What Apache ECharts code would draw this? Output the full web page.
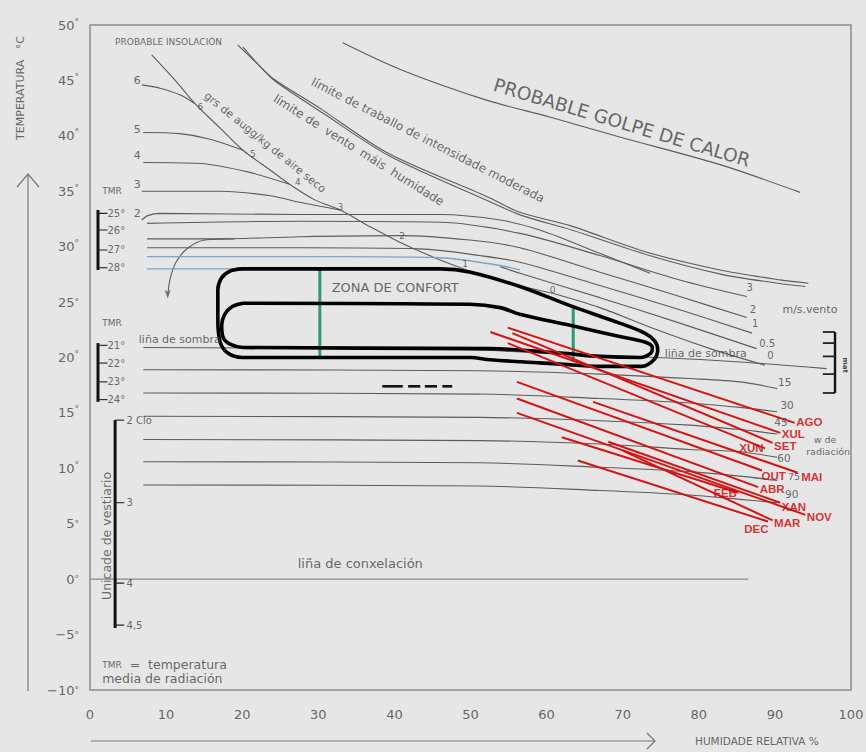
<!DOCTYPE html>
<html><head><meta charset="utf-8">
<script src="https://cdn.jsdelivr.net/npm/echarts/dist/echarts.min.js"></script>
<style>html,body{margin:0;padding:0;background:#e6e6e6}#c{width:866px;height:752px}</style>
</head><body><div id="c"></div><script>
// ---------- DATA (humidade relativa %, temperatura °C) ----------
const humidadeTicks = [0,10,20,30,40,50,60,70,80,90,100];
const temperaturaTicks = [-10,-5,0,5,10,15,20,25,30,35,40,45,50];

const probableGolpe = [[33.2,48.4],[41.1,45.9],[52.2,43.2],[60.4,41.7],[69.6,39.9],[82.8,37.4],[93.3,34.9]];
const limiteTraballo = [[19.4,48.2],[21.7,46.7],[24.0,45.2],[30.2,42.5],[39.0,38.5],[52.2,34.5],[56.5,33.1],[63.1,31.9],[73.2,29.5],[82.8,27.9],[90.7,27.0],[94.4,26.7]];
const limiteVento = [[20.1,48.0],[22.3,46.3],[24.4,44.9],[30.5,42.1],[39.3,38.2],[52.4,34.1],[56.8,32.8],[63.3,31.5],[73.5,29.2],[83.0,27.5],[90.4,26.7],[94.0,26.4]];
const insolacion = [[8.1,47.3],[11.2,45.0],[13.8,42.9],[17.1,40.7],[20.1,38.7],[23.7,36.9],[26.3,35.6],[29.6,34.2],[32.9,33.3],[36.8,31.8],[40.7,30.4],[45.3,29.0],[49.5,27.9],[55.2,26.7],[60.8,25.8]];
const grs6 = [[6.8,44.6],[9.2,44.3],[11.8,43.7],[13.8,42.9]];
const grs5 = [[7.0,40.3],[11.8,40.2],[15.8,39.7],[20.1,38.7]];
const grs4 = [[7.0,37.6],[14.5,37.5],[21.0,36.7],[26.3,35.6]];
const grs3 = [[6.8,35.0],[17.1,35.0],[23.7,34.6],[27.6,34.0],[32.9,33.3]];
const ventoCurto = [[6.8,32.4],[7.6,32.8],[9.2,33.0],[27.6,32.9],[46.0,32.9],[53.9,32.4],[59.1,31.5],[67.0,29.4],[73.6,27.6]];
const vento3 = [[7.5,32.1],[27.6,32.3],[46.0,32.2],[56.5,31.2],[67.0,29.2],[77.5,27.0],[86.3,25.5]];
const vento2 = [[7.5,30.7],[16.7,30.7],[27.6,30.9],[40.7,31.0],[49.9,30.6],[56.5,29.9],[67.0,27.7],[77.5,25.5],[86.3,23.6]];
const vento1 = [[7.5,29.9],[27.6,29.9],[43.4,29.8],[51.2,29.2],[56.5,28.6],[67.0,26.5],[77.5,24.3],[87.0,22.2]];
const vento05Azul = [[7.5,29.1],[31.5,29.1],[46.0,29.0],[53.9,28.3],[56.5,27.9]];
const vento05 = [[53.9,28.2],[56.5,27.6],[67.0,25.4],[77.5,23.1],[87.6,20.8]];
const vento0 = [[60.8,25.8],[67.0,24.5],[74.5,22.5],[81.5,20.8],[88.7,19.3]];
const tmr28Azul = [[7.5,28.0],[18.7,28.0]];
const arcoFrecha = [[19.0,30.7],[15.1,30.6],[12.9,29.9],[11.3,28.6],[10.5,27.0],[10.2,25.4]];
const sombra = [[7.0,20.9],[49.9,20.7],[61.8,20.3],[74.5,20.0],[85.4,19.6],[96.8,19.0]];
const rad15 = [[7.0,18.9],[51.2,18.8],[67.0,18.5],[78.8,18.1],[85.4,17.8],[90.3,17.2]];
const rad30 = [[7.0,16.8],[51.2,16.7],[67.0,16.3],[78.8,15.9],[85.4,15.5],[90.3,15.1]];
const rad45 = [[7.0,14.7],[51.2,14.6],[67.0,14.3],[78.8,13.9],[85.4,13.5],[90.3,13.1]];
const rad60 = [[7.0,12.6],[51.2,12.5],[67.0,12.2],[78.8,11.7],[85.4,11.5],[90.3,11.0]];
const rad75 = [[7.0,10.6],[51.2,10.5],[67.0,10.1],[78.8,9.7],[85.4,9.3],[90.3,8.9]];
const rad90 = [[7.0,8.5],[51.2,8.4],[67.0,8.0],[78.8,7.6],[85.4,7.2],[90.3,6.9]];
const conxelacion = [[0,0],[86.5,0]];
const confortExterior = [[20,28],[46,28],[50,27.7],[56.5,26.4],[63,24.7],[69.6,23.1],[72.9,22.2],[74.2,21.5],[74.6,20.7],[74.1,19.8],[72.5,19.2],[67,19.2],[61.8,19.4],[52.6,19.8],[50,20],[20,20],[18.1,20.4],[17.1,21.4],[16.8,23.4],[16.8,26.1],[17.3,27.2],[18.4,27.8],[20,28]];
const confortInterior = [[20.1,24.9],[49.9,24.8],[53.9,24.5],[56.5,23.9],[63.1,22.9],[69.6,21.9],[72.9,21.4],[73.9,20.9],[73.7,20.4],[72.3,20.0],[67,20.1],[61.8,20.4],[52.6,20.8],[20.1,20.9],[18.4,21.2],[17.5,21.8],[17.3,22.9],[17.7,23.9],[18.7,24.6],[20.1,24.9]];
const verdeEsq = [[30.2,27.9],[30.2,20.1]];
const verdeDer = [[63.5,24.6],[63.5,19.6]];
const trazos = [[[38.4,17.4],[41.1,17.4]],[[41.8,17.4],[43.4,17.4]],[[44.0,17.4],[45.6,17.4]],[[46.3,17.4],[47.6,17.4]]];

const meses = ['XAN','FEB','MAR','ABR','MAI','XUN','XUL','AGO','SET','OUT','NOV','DEC'];
const mesInicio = [[68.1,12.4],[62.0,12.8],[70.0,11.6],[56.1,16.3],[66.1,16.0],[54.9,21.3],[52.6,22.3],[54.9,22.7],[55.5,22.2],[56.1,17.8],[56.1,15.0],[64.1,10.7]];
const mesFin = [[90.7,6.9],[85.2,7.8],[89.7,5.3],[87.8,8.3],[93.0,9.6],[88.7,11.8],[90.7,13.2],[92.6,14.1],[89.7,12.3],[88.3,9.8],[94.0,5.8],[89.1,5.2]];

const tmrVeran = ['25°','26°','27°','28°'];
const tmrVeranT = [33.0,31.5,29.7,28.1];
const tmrInverno = ['21°','22°','23°','24°'];
const tmrInvernoT = [21.1,19.5,17.8,16.2];
const clo = ['2 Clo','3','4','4,5'];
const cloT = [14.35,6.9,-0.36,-4.15];
const matT = [22.3,21.3,20.1,18.5,16.8];
const radiacion = ['15','30','45','60','75','90'];
const ventoVel = ['3','2','1','0.5','0'];

// ---------- BUILD ----------
const F = "'DejaVu Sans', sans-serif";
const GRAY = '#5c5c5c', BLUE = '#79a5c6', RED = '#d41414', GREEN = '#2f9a6c';
function L(data, color, width, extra){
  return Object.assign({type:'line', data, symbol:'none', showSymbol:false, silent:true, animation:false,
    smooth:0.3, lineStyle:{color, width}, z:2}, extra||{});
}
const series = [];
[probableGolpe, limiteTraballo, limiteVento, insolacion, grs6, grs5, grs4, grs3,
 ventoCurto, vento3, vento2, vento1, vento05, vento0, sombra, rad15, rad30, rad45, rad60, rad75, rad90, arcoFrecha]
 .forEach(d => series.push(L(d, GRAY, 1.1)));
series.push(L(conxelacion, '#8a8a8a', 1.3, {smooth:false}));
series.push(L(vento05Azul, BLUE, 1.3));
series.push(L(tmr28Azul, BLUE, 1.3, {smooth:false}));
series.push(L(confortExterior, '#000', 3.6, {z:5, smooth:0.35}));
series.push(L(confortInterior, '#000', 3.6, {z:5, smooth:0.35}));
series.push(L(verdeEsq, GREEN, 3, {z:4, smooth:false}));
series.push(L(verdeDer, GREEN, 3, {z:4, smooth:false}));
trazos.forEach(d => series.push(L(d, '#111', 2.6, {z:5, smooth:false})));
meses.forEach((m,i) => series.push(L([mesInicio[i], mesFin[i]], RED, 2, {z:6, smooth:false})));

// brackets
const bk = (x1,x2,ts,w) => ts.forEach(t => series.push(L([[x1,t],[x2,t]], '#222', w||1.1, {smooth:false, z:3})));
series.push(L([[1.05,33.3],[1.05,27.9]], '#111', 3, {smooth:false, z:3}));
bk(1.05,2.3,tmrVeranT);
series.push(L([[1.05,21.3],[1.05,16.0]], '#111', 3, {smooth:false, z:3}));
bk(1.05,2.3,tmrInvernoT);
series.push(L([[3.3,14.35],[3.3,-4.4]], '#111', 3, {smooth:false, z:3}));
bk(3.3,4.5,cloT);
series.push(L([[97.9,22.3],[97.9,16.8]], '#111', 2.4, {smooth:false, z:3}));
bk(96.3,97.9,matT,1.8);

// arrow head of the curved arrow
series.push({type:'scatter', silent:true, animation:false, z:4, symbol:'arrow', symbolRotate:180, symbolSize:[5,8],
  itemStyle:{color:'#666'}, data:[arcoFrecha[arcoFrecha.length-1]]});

// text notes (data-anchored)
function notes(){
  const n = [];
  const add = (x,y,t,o) => n.push(Object.assign({x,y,t},o||{}));
  add(3.3,48.5,'PROBABLE INSOLACIÓN',{fs:9,a:'left'});
  [['6',45.0],['5',40.6],['4',38.2],['3',35.6],['2',33.0]].forEach(p => add(6.2,p[1],p[0],{fs:11}));
  [[14.5,42.6,'6'],[21.4,38.4,'5'],[27.3,35.8,'4'],[32.9,33.6,'3'],[41.0,31.0,'2'],[49.3,28.4,'1'],[60.8,26.1,'0']].forEach(p => add(p[0],p[1],p[2],{fs:9}));
  add(23.0,39.4,'grs de augg/kg de aire seco',{fs:11,r:-39});
  add(44.4,39.6,'límite de traballo de intensidade moderada',{fs:12,r:-27});
  add(35.3,38.7,'límite de  vento  máis  humidade',{fs:12,r:-32});
  add(69.9,41.2,'PROBABLE GOLPE DE CALOR',{fs:18.5,r:-16.6});
  add(40.1,26.3,'ZONA DE CONFORT',{fs:13});
  add(11.8,21.6,'liña de sombra',{fs:11});
  add(80.9,20.4,'liña de sombra',{fs:11});
  add(94.6,24.3,'m/s.vento',{fs:11});
  [[86.7,26.3],[87.1,24.3],[87.4,23.1],[89.0,21.3],[89.4,20.2]].forEach((p,i) => add(p[0],p[1],ventoVel[i],{fs:10}));
  [[91.3,17.8],[91.6,15.7],[90.8,14.2],[91.2,10.9],[92.5,9.3],[92.2,7.7]].forEach((p,i) => add(p[0],p[1],radiacion[i],{fs:i===4?9.5:10.5}));
  add(96.6,12.6,'w de',{fs:9.5});
  add(97.0,11.5,'radiación',{fs:9.5});
  add(99.2,19.3,'mat',{fs:7,r:-90,w:'bold',c:'#111'});
  add(2.9,35.0,'TMR',{fs:9});
  add(2.9,23.1,'TMR',{fs:9});
  tmrVeran.forEach((t,i) => add(2.3,tmrVeranT[i],t,{fs:10,a:'left'}));
  tmrInverno.forEach((t,i) => add(2.3,tmrInvernoT[i],t,{fs:10,a:'left'}));
  clo.forEach((t,i) => add(4.8,cloT[i],t,{fs:10,a:'left'}));
  add(2.2,3.9,'Unicade de vestiario',{fs:12.5,r:90});
  add(27.3,1.4,'liña de conxelación',{fs:13,a:'left'});
  add(1.6,-7.7,'{s|TMR}  =  temperatura',{fs:12.5,a:'left'});
  add(1.6,-9.0,'media de radiación',{fs:12.5,a:'left'});
  return n;
}
series.push({type:'scatter', silent:true, animation:false, z:8, symbolSize:1, itemStyle:{color:'rgba(0,0,0,0)'},
  data: notes().map(n => ({value:[n.x,n.y], label:{show:true, position:'inside', formatter:n.t, rotate:n.r||0,
    fontSize:n.fs||11, color:n.c||'#444', fontFamily:F, fontWeight:n.w||'normal', align:n.a||'center', verticalAlign:'middle',
    rich:{s:{fontSize:9, color:'#444', fontFamily:F}}}}))});

// month labels
const mesPos = {XAN:['right',[0,4]],FEB:['left',[0,0]],MAR:['right',[0,3]],ABR:['right',[0,2]],MAI:['right',[2,4]],
  XUN:['left',[0,0]],XUL:['right',[0,1]],AGO:['right',[0,-1]],SET:['right',[0,3]],OUT:['right',[-2,5]],NOV:['right',[0,2]],DEC:['left',[2,7]]};
series.push({type:'scatter', silent:true, animation:false, z:9, symbolSize:1, itemStyle:{color:'rgba(0,0,0,0)'},
  data: meses.map((m,i) => ({value:mesFin[i], label:{show:true, formatter:m, position:mesPos[m][0], offset:mesPos[m][1], distance:1,
    fontSize:11.5, fontWeight:'bold', color:'#d00000', fontFamily:"'Liberation Sans', Arial, sans-serif"}}))});

const lowDeg = new Set([25,5,0,-5,-10]);
const option = {
  backgroundColor:'#e6e6e6',
  animation:false,
  grid:{left:90, right:15, top:25, bottom:62, show:true, borderColor:'#8c8c8c', borderWidth:1.5, containLabel:false, outerBoundsMode:'none'},
  xAxis:{type:'value', min:0, max:100, interval:10, axisLine:{show:false}, axisTick:{show:false}, splitLine:{show:false},
    axisLabel:{color:'#666', fontSize:13, margin:18, fontFamily:F, showMinLabel:true, showMaxLabel:true,
      formatter: v => humidadeTicks.includes(v) ? String(v) : ''}},
  yAxis:{type:'value', min:-10, max:50, interval:5, axisLine:{show:false}, axisTick:{show:false}, splitLine:{show:false},
    axisLabel:{color:'#666', fontSize:13, margin:11, fontFamily:F, showMinLabel:true, showMaxLabel:true,
      formatter: v => temperaturaTicks.includes(v) ? ((v<0?'−':'')+Math.abs(v)+(lowDeg.has(v)?'{lo|°}':'{hi|°}')) : '',
      rich:{hi:{fontSize:9, color:'#666', padding:[0,0,7,0], fontFamily:F}, lo:{fontSize:9, color:'#666', padding:[0,0,0,0], fontFamily:F}}}},
  graphic:[
    {type:'line', shape:{x1:28,y1:174,x2:28,y2:691}, style:{stroke:'#777', lineWidth:1.2}},
    {type:'polyline', shape:{points:[[17,187],[28,174],[39,187]]}, style:{stroke:'#777', fill:null, lineWidth:1.2}},
    {type:'line', shape:{x1:91,y1:741,x2:655,y2:741}, style:{stroke:'#777', lineWidth:1.2}},
    {type:'polyline', shape:{points:[[647,733],[655,741],[647,749]]}, style:{stroke:'#777', fill:null, lineWidth:1.2}},
    {type:'text', x:20, y:88, rotation:Math.PI/2, style:{text:'TEMPERATURA   °C', align:'center', verticalAlign:'middle', fontSize:11, fill:'#666', fontFamily:F}},
    {type:'text', x:695, y:741, style:{text:'HUMIDADE RELATIVA %', align:'left', verticalAlign:'middle', fontSize:10.5, fill:'#666', fontFamily:F}}
  ],
  series
};
const chart = echarts.init(document.getElementById('c'), null, {renderer:'svg'});
chart.setOption(option);
</script></body></html>
